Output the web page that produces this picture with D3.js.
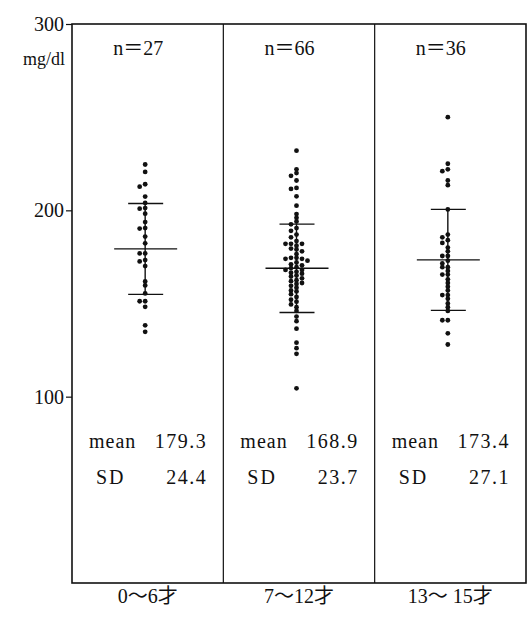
<!DOCTYPE html>
<html>
<head>
<meta charset="utf-8">
<script src="https://cdn.jsdelivr.net/npm/d3@7"></script>
<style>
  body { margin: 0; background: #fff; }
  svg { display: block; }
</style>
</head>
<body>
<figure style="margin:0"></figure>
<script>
const width = 529
const height = 617
const serif = "'Liberation Serif', 'Noto Sans CJK JP', serif"

// data
const categories = ['0～6才', '7～12才', '13～ 15才']
const counts = [27, 66, 36]
const means = [179.3, 168.9, 173.4]
const sds = [24.4, 23.7, 27.1]
const yTicks = [100, 200, 300]

const group1 = [224.6, 220.6, 214, 212.7, 207.4, 204, 201.2, 200.9, 198.2, 193.7,
  190.5, 190.2, 185.9, 182.3, 176.9, 176.9, 173.3, 172.6, 170.1, 161.8,
  159.7, 155.4, 151.2, 151.2, 148.2, 138.3, 134.8]

const group2 = [232, 222, 220, 218.5, 216, 212, 211.5, 207.5, 202.5, 198,
  196, 194, 192.5, 190.5, 189, 187, 185.5, 183.5, 182, 182,
  182, 181, 179.5, 179, 178, 176.5, 174.5, 174.5, 174, 174,
  173, 172, 171, 170.5, 169.5, 169, 168, 168, 167, 166.5,
  166, 165, 164.5, 163.5, 162.5, 162, 161, 160.5, 159.5, 158.5,
  157, 156.5, 155, 153.5, 152, 151, 149.5, 148, 146, 143,
  140.5, 136.5, 129, 126, 123, 104.5]

const group3 = [250, 225, 222, 221, 216, 213.5, 200.5, 187, 185.5, 184,
  182.5, 180, 178, 175.5, 175.5, 173, 171.5, 169.5, 169.5, 167.5,
  165.5, 165.5, 163, 161, 159, 157, 154.5, 154.5, 152.5, 150,
  148, 146, 141, 141, 134, 128]

const groups = [group1, group2, group3]

const svg = d3.select('figure').append('svg')
  .attr('width', width)
  .attr('height', height)

const y = d3.scaleLinear().domain([0, 300]).range([583, 24])
const x = d3.scaleBand().domain(categories).range([72, 526])

const label = (sel, size) => sel
  .style('font-family', serif)
  .style('font-size', size + 'px')
  .attr('fill', '#111')

// axis ticks on the left
const axis = svg.append('g')
  .attr('transform', 'translate(72,0)')
  .call(d3.axisLeft(y).tickValues(yTicks).tickSize(6).tickSizeOuter(0).tickPadding(2))
axis.select('.domain').remove()
axis.selectAll('line').attr('stroke', '#111').attr('stroke-width', 1.2)
label(axis.selectAll('text'), 20)

label(svg.append('text'), 18)
  .attr('x', 65)
  .attr('y', 65)
  .attr('text-anchor', 'end')
  .text('mg/dl')

// frame and dividers
svg.append('rect')
  .attr('x', 72)
  .attr('y', y(300))
  .attr('width', 454)
  .attr('height', y(0) - y(300))
  .attr('fill', 'none')
  .attr('stroke', '#111')
  .attr('stroke-width', 1.6)

svg.selectAll('.divider')
  .data(categories.slice(1))
  .join('line')
  .attr('class', 'divider')
  .attr('x1', d => x(d))
  .attr('x2', d => x(d))
  .attr('y1', y(300))
  .attr('y2', y(0))
  .attr('stroke', '#111')
  .attr('stroke-width', 1.2)

// simple beeswarm: keep dots in a central column, push colliding ones sideways
const swarm = (values, cx) => {
  const step = 5.5
  const gap = 3.4
  const order = [0, -1, 1, -2, 2, -3, 3]
  const placed = []
  return values.slice().sort((a, b) => b - a).map(v => {
    const py = y(v)
    let col = 0
    for (const c of order) {
      const hit = placed.some(p => p.col === c && Math.abs(p.y - py) < gap)
      if (!hit) { col = c; break }
    }
    placed.push({ col, y: py })
    return { x: cx + col * step, y: py }
  })
}

categories.forEach((cat, i) => {
  const cx = x(cat) + x.bandwidth() / 2 - 2.5
  const left = x(cat)
  const right = x(cat) + x.bandwidth()
  const g = svg.append('g')

  // mean and SD bars
  g.append('line')
    .attr('x1', cx).attr('x2', cx)
    .attr('y1', y(means[i] + sds[i])).attr('y2', y(means[i] - sds[i]))
    .attr('stroke', '#111').attr('stroke-width', 1.4)
  g.append('line')
    .attr('x1', cx - 31).attr('x2', cx + 32)
    .attr('y1', y(means[i])).attr('y2', y(means[i]))
    .attr('stroke', '#111').attr('stroke-width', 1.4)
  g.selectAll('.sd')
    .data([means[i] + sds[i], means[i] - sds[i]])
    .join('line')
    .attr('class', 'sd')
    .attr('x1', cx - 17).attr('x2', cx + 18)
    .attr('y1', d => y(d)).attr('y2', d => y(d))
    .attr('stroke', '#111').attr('stroke-width', 1.4)

  g.selectAll('circle')
    .data(swarm(groups[i], cx))
    .join('circle')
    .attr('cx', d => d.x)
    .attr('cy', d => d.y)
    .attr('r', 2.4)
    .attr('fill', '#111')

  label(g.append('text'), 20)
    .attr('x', cx - 7)
    .attr('y', 55)
    .attr('text-anchor', 'middle')
    .text('n＝' + counts[i])

  label(g.append('text'), 20)
    .attr('x', left + 17)
    .attr('y', 448)
    .style('letter-spacing', '1px')
    .text('mean')
  label(g.append('text'), 20)
    .attr('x', right - 16)
    .attr('y', 448)
    .attr('text-anchor', 'end')
    .style('letter-spacing', '1.5px')
    .text(means[i].toFixed(1))

  label(g.append('text'), 20)
    .attr('x', left + 24)
    .attr('y', 484)
    .style('letter-spacing', '2px')
    .text('SD')
  label(g.append('text'), 20)
    .attr('x', right - 16)
    .attr('y', 484)
    .attr('text-anchor', 'end')
    .style('letter-spacing', '1.5px')
    .text(sds[i].toFixed(1))

  label(g.append('text'), 20)
    .attr('x', x(cat) + x.bandwidth() / 2)
    .attr('y', 603)
    .attr('text-anchor', 'middle')
    .text(cat)
})
</script>
</body>
</html>
